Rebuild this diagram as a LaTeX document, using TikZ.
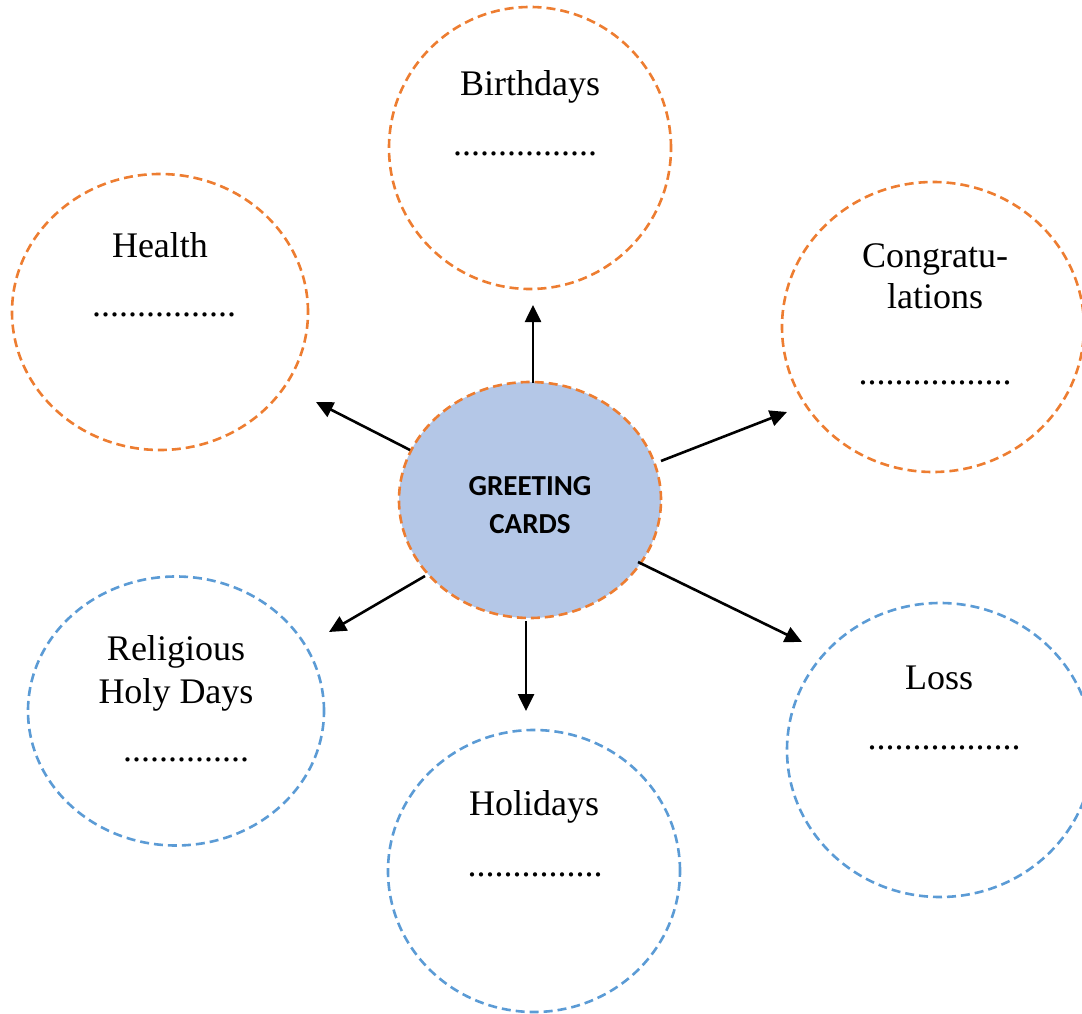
\documentclass[tikz,border=0pt]{standalone}
\usepackage{fontspec}
\setmainfont{Liberation Serif}
\newfontfamily\calib{Carlito}
\usetikzlibrary{shapes.geometric,arrows.meta}
\definecolor{orng}{HTML}{ED7D31}
\definecolor{blu}{HTML}{5B9BD5}
\definecolor{fillb}{HTML}{B4C7E7}
\begin{document}
\begin{tikzpicture}[x=1pt,y=-1pt,
  bubble/.style={ellipse,draw,line width=2.6pt,dash pattern=on 9pt off 5pt,inner sep=0pt},
  obub/.style={bubble,draw=orng},
  bbub/.style={bubble,draw=blu},
  lbl/.style={anchor=base,inner sep=0pt,font=\fontsize{36}{42}\selectfont},
  dts/.style={anchor=base,inner sep=0pt,font=\fontsize{36}{42}\selectfont},
  conn/.style={line width=2.6pt,-{Triangle[length=17pt,width=16pt]}}]
\useasboundingbox (0,0) rectangle (1082,1014);
\begin{scope}
\clip (0,0) rectangle (1082,1014);
% bubbles
\node[obub,minimum width=282pt,minimum height=282pt] (birth) at (530,148) {};
\node[obub,minimum width=296pt,minimum height=276pt] (health) at (160,312) {};
\node[obub,minimum width=302pt,minimum height=290pt] (congr) at (933,327) {};
\node[bbub,minimum width=296pt,minimum height=269pt] (relig) at (176,711) {};
\node[bbub,minimum width=292pt,minimum height=282pt] (holid) at (534,871) {};
\node[bbub,minimum width=306pt,minimum height=294pt] (loss) at (940,750) {};
\node[obub,fill=fillb,minimum width=262pt,minimum height=236pt] (cen) at (530,500) {};
\end{scope}
\node[anchor=base,inner sep=0pt,font=\calib\bfseries\fontsize{29}{38}\selectfont] (cent) at (530,495) {GREETING};
\node[anchor=base,inner sep=0pt,font=\calib\bfseries\fontsize{29}{38}\selectfont] (cent2) at (530,533) {CARDS};
% labels
\node[lbl] (tb) at (530,96) {Birthdays};
\node[dts] (db) at (525,156) {................};
\node[lbl] (th) at (160,257) {Health};
\node[dts] (dh) at (164,316) {................};
\node[lbl] (tc1) at (935,267) {Congratu-};
\node[lbl] (tc2) at (935,308) {lations};
\node[dts] (dc) at (935,384) {.................};
\node[lbl] (tr1) at (176,660) {Religious};
\node[lbl] (tr2) at (176,703) {Holy Days};
\node[dts] (dr) at (186,761) {..............};
\node[lbl] (tho) at (534,815) {Holidays};
\node[dts] (dho) at (535,876) {...............};
\node[lbl] (tl) at (939,689) {Loss};
\node[dts] (dl) at (944,749) {.................};
% connectors
\coordinate (s1) at (533,383);
\coordinate (e1) at (533,305);
\coordinate (s2) at (410,450);
\coordinate (e2) at (316,402);
\coordinate (s3) at (661,461);
\coordinate (e3) at (787,412);
\coordinate (s4) at (425,576);
\coordinate (e4) at (329,632);
\coordinate (s5) at (526,621);
\coordinate (e5) at (526,711);
\coordinate (s6) at (638,562);
\coordinate (e6) at (802,642);
\draw[conn] (s1) -- (e1);
\draw[conn] (s2) -- (e2);
\draw[conn] (s3) -- (e3);
\draw[conn] (s4) -- (e4);
\draw[conn] (s5) -- (e5);
\draw[conn] (s6) -- (e6);
\end{tikzpicture}
\end{document}
